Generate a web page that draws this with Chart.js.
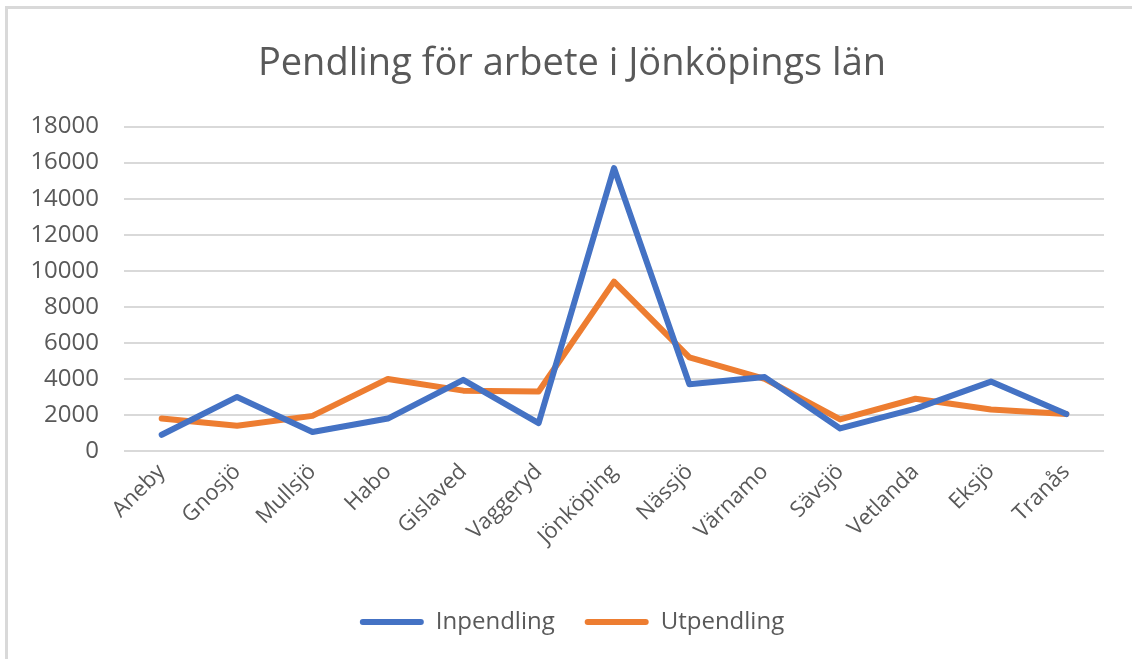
<!DOCTYPE html>
<html>
<head>
<meta charset="utf-8">
<script src="https://cdn.jsdelivr.net/npm/chart.js@4/dist/chart.umd.min.js"></script>
<style>
  html, body { margin: 0; padding: 0; background: #ffffff; }
  #wrap { position: absolute; left: 0; top: 0; width: 1132px; height: 659px; }
  #frame { position: absolute; left: 5px; top: 6px; width: 1140px; height: 700px;
           border-top: 3px solid #d9d9d9; border-left: 3px solid #d9d9d9; pointer-events: none; }
</style>
</head>
<body>
<div id="wrap"><canvas id="c" width="1132" height="659"></canvas></div>
<div id="frame"></div>
<script>
const categories = ["Aneby","Gnosjö","Mullsjö","Habo","Gislaved","Vaggeryd","Jönköping","Nässjö","Värnamo","Sävsjö","Vetlanda","Eksjö","Tranås"];
const inpendling = [900, 3000, 1050, 1800, 3950, 1550, 15700, 3700, 4100, 1250, 2350, 3850, 2050];
const utpendling = [1800, 1400, 1950, 4000, 3350, 3300, 9400, 5200, 4000, 1750, 2900, 2300, 2050];
const yTicks = [0, 2000, 4000, 6000, 8000, 10000, 12000, 14000, 16000, 18000];
const titleText = "Pendling för arbete i Jönköpings län";

const FONT = "'Open Sans', sans-serif";
const GREY = "#595959";

// shift title and legend blocks to the right so they are centred like the original
const shiftBlocks = {
  id: 'shiftBlocks',
  afterLayout(chart) {
    const dx = 40;
    [chart.titleBlock, chart.legend].forEach(b => {
      if (b) { b.left += dx; b.width -= dx; }
    });
  }
};

new Chart(document.getElementById('c'), {
  type: 'line',
  data: {
    labels: categories,
    datasets: [
      { label: 'Inpendling', data: inpendling, borderColor: '#4472C4', backgroundColor: '#4472C4',
        borderWidth: 6, pointRadius: 0, tension: 0, borderJoinStyle: 'round', borderCapStyle: 'round' },
      { label: 'Utpendling', data: utpendling, borderColor: '#ED7D31', backgroundColor: '#ED7D31',
        borderWidth: 6, pointRadius: 0, tension: 0, borderJoinStyle: 'round', borderCapStyle: 'round' }
    ]
  },
  plugins: [shiftBlocks],
  options: {
    responsive: false,
    animation: false,
    layout: { padding: { left: 0, right: 28, top: 0, bottom: 15 } },
    plugins: {
      tooltip: { enabled: false },
      title: {
        display: true, text: titleText, color: GREY,
        font: { family: FONT, size: 38, weight: 'normal' },
        padding: { top: 41, bottom: 40 }
      },
      legend: {
        position: 'bottom',
        labels: {
          font: { family: FONT, size: 24 }, color: GREY,
          boxWidth: 64, boxHeight: 6, padding: 30,
          useBorderRadius: true, borderRadius: 3,
          generateLabels: (chart) => chart.data.datasets.map((ds, i) => ({
            text: ds.label, fillStyle: ds.borderColor, strokeStyle: ds.borderColor,
            lineWidth: 0, hidden: false, datasetIndex: i, fontColor: GREY, borderRadius: 3
          }))
        }
      }
    },
    scales: {
      x: {
        offset: true,
        grid: { display: false, drawTicks: false, offset: true },
        border: { display: false },
        ticks: { color: GREY, font: { family: FONT, size: 22 }, minRotation: 45, maxRotation: 45, padding: 8 },
        afterFit: (s) => { s.height = 129; }
      },
      y: {
        min: 0, max: 18000,
        afterBuildTicks: (s) => { s.ticks = yTicks.map(v => ({ value: v })); },
        grid: { color: '#d9d9d9', lineWidth: 2, drawTicks: false },
        border: { display: false },
        ticks: { color: GREY, font: { family: FONT, size: 24 }, padding: 25, callback: (v) => String(v) },
        afterFit: (s) => { s.width = 124; }
      }
    }
  }
});
</script>
</body>
</html>
